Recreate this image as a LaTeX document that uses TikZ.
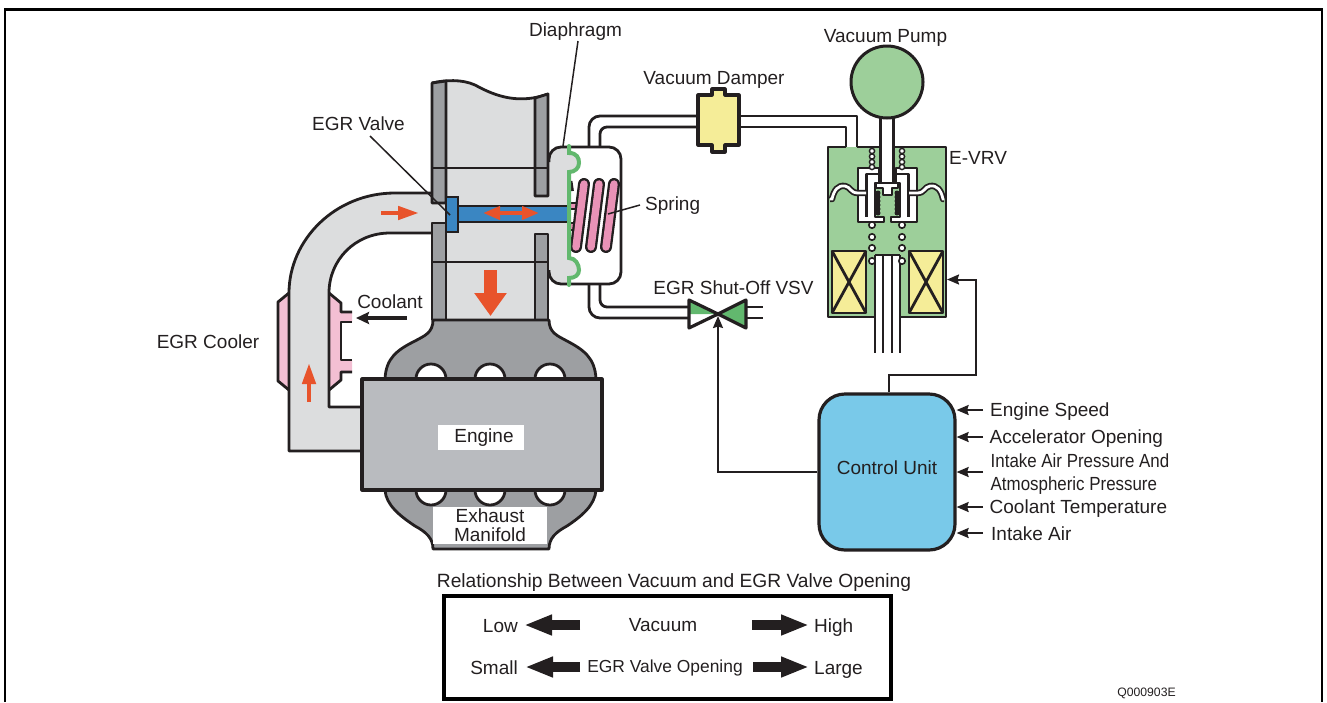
\documentclass[tikz,border=0pt]{standalone}
\usepackage{fontspec}
\usepackage{graphicx}
\setmainfont{Liberation Sans}
\usetikzlibrary{arrows.meta}
\definecolor{ink}{HTML}{231F20}
\definecolor{pipegray}{HTML}{DCDDDE}
\definecolor{wallgray}{HTML}{9D9FA2}
\definecolor{enginegray}{HTML}{B9BBBF}
\definecolor{coolpink}{HTML}{F3BFD3}
\definecolor{springpink}{HTML}{E992B6}
\definecolor{stemblue}{HTML}{3A86C2}
\definecolor{flowred}{HTML}{E8532B}
\definecolor{vrvgreen}{HTML}{9DCF9A}
\definecolor{vsvgreen}{HTML}{62B86E}
\definecolor{coilyellow}{HTML}{F5ED98}
\definecolor{ctrlblue}{HTML}{79C9E9}
\tikzset{
  ln/.style={draw=ink,line width=2.8pt,line join=round},
  thinln/.style={draw=ink,line width=2pt},
  lead/.style={draw=ink,line width=1.5pt},
  sig/.style={draw=ink,line width=2pt,-{Stealth[length=12pt,width=10pt,inset=1.5pt]}},
  cool/.style={draw=ink,line width=3.6pt,-{Stealth[length=13pt,width=12pt,inset=2pt]}},
  lbl/.style={inner sep=0pt,text=ink,font=\fontsize{19}{20}\selectfont},
  bigarr/.style={draw=ink,line width=9.5pt,-{Triangle[length=28pt,width=19pt]}},
  redarr/.style={draw=flowred,line width=4.5pt,-{Triangle[length=21pt,width=13pt]}},
  redbi/.style={draw=flowred,line width=4pt,{Triangle[length=17pt,width=13pt]}-{Triangle[length=17pt,width=13pt]}},
  bead/.style={draw=ink,line width=1.6pt,fill=white},
}
\begin{document}
\begin{tikzpicture}[x=1pt,y=-1pt]
\useasboundingbox (0,0) rectangle (1327,702);
% page frame
\draw[draw=black,line width=2.6pt] (5,702) -- (5,9.5) -- (1322,9.5) -- (1322,702);

% ---------- EGR cooler
\fill[coolpink] (289,293) -- (278,302) -- (278,381) -- (289,390) -- (329,390) -- (341,380) -- (341,372) -- (352,372) -- (352,360) -- (341,360) -- (341,322) -- (352,322) -- (352,312) -- (341,312) -- (341,303) -- (329,293) -- cycle;
\draw[ln] (289,293) -- (278,302) -- (278,381) -- (289,390);
\draw[ln] (329,293) -- (341,303) -- (341,312) -- (352,312);
\draw[ln] (352,322) -- (341,322) -- (341,360) -- (352,360);
\draw[ln] (352,372) -- (341,372) -- (341,380) -- (329,390);

% ---------- EGR pipe
\fill[pipegray] (448,193) -- (395,193) .. controls (335,193) and (289,240) .. (289,293) -- (289,451) -- (362,451) -- (362,407) -- (329,407) -- (329,293) .. controls (329,260) and (355,233) .. (390,233) -- (448,233) -- cycle;
\draw[ln] (432,193) -- (395,193) .. controls (335,193) and (289,240) .. (289,293) -- (289,451) -- (362,451);
\draw[ln] (432,233) -- (390,233) .. controls (355,233) and (329,260) .. (329,293) -- (329,407) -- (362,407);

% ---------- diaphragm chamber
\fill[white] (560,147) -- (610,147) -- (621,158) -- (621,273) -- (610,284) -- (560,284) -- cycle;
% tubes to chamber
\draw[ln,rounded corners=11pt] (589,147) -- (589,116) -- (698,116);
\draw[ln,rounded corners=7pt] (600,147) -- (600,127) -- (698,127);
\draw[ln,rounded corners=11pt] (589,284) -- (589,318) -- (689,318);
\draw[ln,rounded corners=7pt] (600,284) -- (600,307) -- (695,307);
% gray side
\fill[pipegray] (545,160) -- (549,160) .. controls (549,152) and (555,147) .. (563,147) -- (569,147) -- (569,153) .. controls (577,153) and (579,158) .. (579,163) .. controls (579,168) and (575,172) .. (569,172) -- (569,258) .. controls (575,258) and (579,264) .. (579,270) .. controls (579,275) and (575,278) .. (569,278) -- (569,284) -- (563,284) .. controls (555,284) and (549,280) .. (549,273) -- (545,273) -- cycle;

% ---------- intake pipe
\fill[pipegray] (432,83) .. controls (445,80) and (462,79) .. (475,85) .. controls (490,93) and (515,106) .. (548,94) -- (548,320) -- (432,320) -- cycle;
\draw[ln] (432,83) .. controls (445,80) and (462,79) .. (475,85) .. controls (490,93) and (515,106) .. (548,94);
\filldraw[ln,fill=wallgray] (432,83) -- (446,81) -- (446,203) -- (432,203) -- cycle;
\filldraw[ln,fill=wallgray] (432,223) -- (446,223) -- (446,320) -- (432,320) -- cycle;
\filldraw[ln,fill=wallgray] (535,98) -- (548,94) -- (548,196) -- (535,196) -- cycle;
\filldraw[ln,fill=wallgray] (535,234) -- (548,234) -- (548,320) -- (535,320) -- cycle;
\draw[thinln] (432,168) -- (548,168);
\draw[thinln] (432,262) -- (548,262);

% chamber outline
\draw[ln,rounded corners=12pt] (549,162) -- (549,147) -- (621,147) -- (621,284) -- (549,284) -- (549,270);

% ---------- spring
\draw[ln] (571,181) -- (572.5,191);
\filldraw[thinln,fill=springpink] (570,203) rectangle (577,209);
\filldraw[thinln,fill=springpink] (570,223) rectangle (574,230);
\foreach \a/\b in {576/584,591/599,606/614}{
  \draw[line width=12pt,draw=ink,line cap=round] (\a,247) -- (\b,184);
  \draw[line width=7.4pt,draw=springpink,line cap=round] (\a,247) -- (\b,184);
}
% ---------- stem
\filldraw[thinln,fill=stemblue] (457,206) rectangle (569,222);
\filldraw[thinln,fill=stemblue] (446,197) rectangle (458,232);
% diaphragm
\draw[draw=vsvgreen,line width=4pt,line cap=round] (569,146) -- (569,153) .. controls (577,153) and (579,158) .. (579,163) .. controls (579,168) and (575,172) .. (569,172) -- (569,258) .. controls (575,258) and (579,264) .. (579,270) .. controls (579,275) and (575,278) .. (569,278) -- (569,285);
\draw[redbi] (483,213) -- (539,213);
\draw[redarr] (381,213) -- (419,213);
\draw[draw=flowred,line width=13pt,-{Triangle[length=23pt,width=31pt]}] (490.5,270) -- (490.5,316);
\draw[redarr] (309,402) -- (309,363);

% ---------- manifold and engine
\filldraw[ln,fill=wallgray] (433,320) .. controls (433,333) and (424,336) .. (415,341) .. controls (397,350) and (386,358) .. (385,379) -- (385,490) .. controls (386,505) and (400,516) .. (415,526) .. controls (426,532) and (433,538) .. (433,549) -- (549,549) .. controls (549,538) and (556,532) .. (567,526) .. controls (582,516) and (595,505) .. (596,490) -- (596,379) .. controls (595,358) and (584,350) .. (567,341) .. controls (558,336) and (549,333) .. (549,320) -- cycle;
\foreach \x in {431,490,550}{
  \filldraw[ln,fill=white] (\x-15,379) arc[start angle=180,end angle=360,radius=15pt,y radius=-15pt];
  \filldraw[ln,fill=white] (\x-15,490) arc[start angle=180,end angle=360,radius=15pt];
}
\filldraw[draw=ink,line width=3.2pt,fill=enginegray,line join=round] (362,379) rectangle (602,490);
\node[lbl,fill=white,minimum width=86pt,minimum height=25pt] (engine) at (481,437.5) {\hspace*{6pt}\raisebox{-1pt}{Engine}};
\node[lbl,fill=white,minimum width=114pt,minimum height=37pt,align=center,font=\fontsize{19}{19}\selectfont] (exhaust) at (490,525.5) {Exhaust\\Manifold};

% ---------- vacuum damper
\draw[ln] (739,116) -- (857,116) -- (857,147);
\draw[ln] (739,127) -- (846,127) -- (846,147);
\filldraw[draw=ink,line width=3.2pt,fill=coilyellow,line join=round] (698,95) -- (712,95) -- (712,89) -- (725,89) -- (725,95) -- (739,95) -- (739,145) -- (725,145) -- (725,152) -- (712,152) -- (712,145) -- (698,145) -- cycle;

% ---------- E-VRV
\fill[vrvgreen] (828,147) rectangle (946,317);
\draw[ln] (846,147) -- (828,147) -- (828,317) -- (875,317);
\draw[ln] (857,147) -- (879,147);
\draw[ln] (895,147) -- (946,147) -- (946,317) -- (900,317);
\foreach \x in {832,909}{
  \filldraw[ln,fill=coilyellow] (\x,251) rectangle (\x+34,313);
  \draw[ln] (\x,251) -- (\x+34,313);
  \draw[ln] (\x+34,251) -- (\x,313);
}
\fill[white] (875,255) rectangle (900,353);
\foreach \x in {875,883,892,900}{\draw[ln] (\x,255) -- (\x,353);}
\draw[ln] (875,255) -- (900,255);
% cups
\filldraw[ln,fill=white] (858,168) -- (879,168) -- (879,183) -- (875,183) -- (875,217) -- (884,217) -- (884,222) -- (858,222) -- cycle;
\filldraw[ln,fill=white] (917,168) -- (896,168) -- (896,183) -- (900,183) -- (900,217) -- (891,217) -- (891,222) -- (917,222) -- cycle;
\draw[ln] (879,174) -- (866.5,174) -- (866.5,217);
\draw[ln] (896,174) -- (908.5,174) -- (908.5,217);
% small diaphragms
\draw[draw=ink,line width=6.4pt,line join=round] (830,199) -- (832,199) .. controls (834,190) and (838,185) .. (845,186) .. controls (851,187) and (850,193) .. (858,193) -- (866,193);
\draw[draw=white,line width=2.8pt] (830,199) -- (832,199) .. controls (834,190) and (838,185) .. (845,186) .. controls (851,187) and (850,193) .. (858,193) -- (866,193);
\draw[draw=ink,line width=6.4pt,line join=round] (944,199) -- (943,199) .. controls (941,190) and (937,185) .. (930,186) .. controls (924,187) and (925,193) .. (917,193) -- (909,193);
\draw[draw=white,line width=2.8pt] (944,199) -- (943,199) .. controls (941,190) and (937,185) .. (930,186) .. controls (924,187) and (925,193) .. (917,193) -- (909,193);
% beads
\foreach \x in {872,902}{
  \foreach \y in {151,156.5,162,167}{\draw[bead,line width=1.4pt] (\x,\y) circle[radius=2.6pt];}
  \foreach \y in {225,237,248,261}{\draw[bead] (\x,\y) circle[radius=3.2pt];}
}
\foreach \x in {878,897}{
  \foreach \y in {193,197,201,205,209,213}{\fill[ink] (\x,\y) circle[radius=2.5pt];}
}
% stem, T piece
\fill[white] (879,116) rectangle (895,184);
\draw[draw=ink,line width=3.4pt] (880.7,116) -- (880.7,183);
\draw[draw=ink,line width=3.4pt] (893.3,116) -- (893.3,183);
\filldraw[ln,fill=white] (876,183) -- (898,183) -- (898,188) -- (892,188) -- (892,195) -- (883,195) -- (883,188) -- (876,188) -- cycle;
% pump
\filldraw[draw=ink,line width=3pt,fill=vrvgreen] (887,82) circle[radius=36pt];

% ---------- VSV
\draw[ln] (746,307) -- (763,307);
\draw[ln] (746,318) -- (763,318);
\fill[white] (689,300) -- (718,314) -- (689,328) -- cycle;
\fill[vsvgreen] (689,300) -- (718,314) -- (689,314) -- cycle;
\draw[draw=ink,line width=3.2pt,line join=round] (689,300) -- (718,314) -- (689,328) -- cycle;
\filldraw[draw=ink,line width=3.2pt,line join=round,fill=vsvgreen] (746,300) -- (718,314) -- (746,328) -- cycle;
\coordinate (vsv) at (718,316);

% ---------- control unit
\node[draw=ink,line width=3.2pt,fill=ctrlblue,rounded corners=26pt,minimum width=136pt,minimum height=156pt,inner sep=0pt,text=ink,font=\fontsize{19}{20}\selectfont] (ctrl) at (887,472) {\raisebox{8pt}{Control Unit}};
\coordinate (coilport) at (947,279.5);
\coordinate (bendA) at (976,375);
\draw[sig] ([xshift=2pt]ctrl.north) |- (bendA) |- (coilport);
\draw[sig] (ctrl.west) -| (vsv);

% inputs
\node[lbl,anchor=base west] (inA) at (990,416.5) {Engine Speed};
\node[lbl,anchor=base west] (inB) at (989.5,443.5) {Accelerator Opening};
\node[lbl,anchor=base west,align=left] (inC1) at (990.5,467.5) {\scalebox{0.89}[1]{Intake Air Pressure And}};
\node[lbl,anchor=base west,align=left] (inC2) at (990.5,490) {\scalebox{0.89}[1]{Atmospheric Pressure}};
\node[lbl,anchor=base west] (inD) at (989.5,513) {Coolant Temperature};
\node[lbl,anchor=base west] (inE) at (991,540) {Intake Air};
\foreach \n/\y in {a/410,b/437,c/472,d/507,e/533}{
  \coordinate (src\n) at (983,\y);
  \draw[sig] (src\n) -- (src\n -| ctrl.east);
}

% ---------- labels with leaders
\node[lbl] (diaph) at (575.5,32) {Diaphragm};
\node[lbl] (damper) at (714,80) {Vacuum Damper};
\node[lbl] (pump) at (885.5,38) {Vacuum Pump};
\node[lbl] (egr) at (358.5,124) {EGR Valve};
\node[lbl,anchor=west] (evrv) at (949,158) {E-VRV};
\node[lbl,anchor=west] (spring) at (645,206) {Spring};
\node[lbl] (coolant) at (390,302) {Coolant};
\node[lbl] (cooler) at (208,342) {EGR Cooler};
\node[lbl] (vsvlbl) at (733.5,288) {EGR Shut-Off VSV};
\coordinate (diaphtip) at (563,146);
\draw[lead] (578,41) -- (diaphtip);
\coordinate (valvetip) at (450,215);
\draw[lead] (370,136) -- (valvetip);
\coordinate (springtip) at (608,214);
\coordinate (springend) at (640,205);
\draw[lead] (springend) -- (springtip);
\coordinate (coolsrc) at (407,318);
\coordinate (coolport) at (356,318);
\draw[cool] (coolsrc) -- (coolport);

% ---------- relationship table
\node[lbl,font=\fontsize{19.2}{20}\selectfont] (title) at (674,583) {Relationship Between Vacuum and EGR Valve Opening};
\node[draw=black,line width=3.6pt,minimum width=447pt,minimum height=103pt,inner sep=0pt] (tbl) at (667.5,647.5) {};
\node[lbl,anchor=east] (low) at (518,626) {Low};
\node[lbl] (vac) at (663,625) {Vacuum};
\node[lbl,anchor=west] (high) at (814,628) {High};
\node[lbl,anchor=east] (small) at (518,668) {Small};
\node[lbl,font=\fontsize{17.4}{19}\selectfont] (open) at (665,668) {EGR Valve Opening};
\node[lbl,anchor=west] (large) at (814,670) {Large};
\coordinate (la) at (580,625); \coordinate (lb) at (524,625);
\coordinate (ra) at (752,625); \coordinate (rb) at (809,625);
\coordinate (sa) at (580,667); \coordinate (sb) at (525,667);
\coordinate (ta) at (753,667); \coordinate (tb) at (809,667);
\draw[bigarr] (la) -- (lb);
\draw[bigarr] (ra) -- (rb);
\draw[bigarr] (sa) -- (sb);
\draw[bigarr] (ta) -- (tb);
\node[lbl,font=\fontsize{12.2}{13}\selectfont] (code) at (1146.5,693) {Q000903E};
\end{tikzpicture}
\end{document}
